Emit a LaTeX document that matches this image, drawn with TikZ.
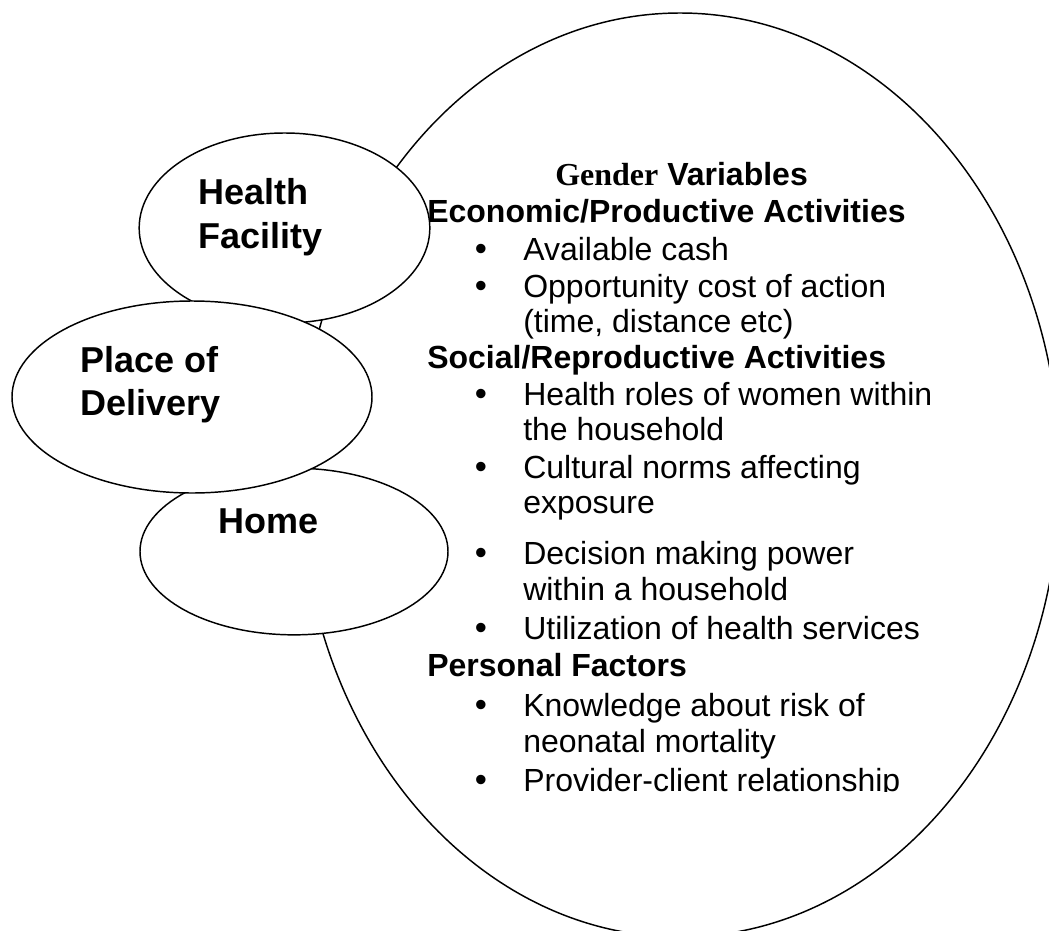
\documentclass[tikz,border=0pt]{standalone}
\usepackage{fontspec}
\setmainfont{Liberation Sans}
\newfontfamily\gserif{Liberation Serif}
\usetikzlibrary{shapes.geometric}
\begin{document}
\begin{tikzpicture}[x=0.75pt,y=-0.75pt,
  oval/.style={ellipse, draw, line width=1.1pt, fill=white, inner sep=0pt},
  lbl/.style={anchor=base west, inner sep=0pt, font=\bfseries\fontsize{27}{31}\selectfont},
  body/.style={anchor=base west, inner sep=0pt, font=\fontsize{24}{27.6}\selectfont},
  head/.style={anchor=base west, inner sep=0pt, font=\bfseries\fontsize{24}{27.6}\selectfont},
  bul/.style={anchor=base, inner sep=0pt, font=\fontsize{26}{27.6}\selectfont}]
\useasboundingbox (0,0) rectangle (1049,931);
\clip (0,0) rectangle (1049,931);
% ellipses
\node[oval, minimum width=570pt, minimum height=693pt] (big) at (680,475) {};
\node[oval, minimum width=231pt, minimum height=125pt] (home) at (294,551.5) {};
\node[oval, minimum width=218pt, minimum height=142.5pt] (hf) at (284.5,228) {};
\node[oval, minimum width=270pt, minimum height=144pt] (pod) at (192,397) {};
% ellipse labels
\node[lbl] (hf1) at (198,204) {Health};
\node[lbl] (hf2) at (198,248) {Facility};
\node[lbl] (pd1) at (80,372) {Place of};
\node[lbl] (pd2) at (80,415) {Delivery};
\node[lbl] (hm) at (218,533) {Home};
% text inside the big ellipse
\begin{scope}
\clip (380,100) rectangle (1000,791);
\node[head] (gv) at (555,185) {{\gserif Gender} Variables};
\node[head] (h1) at (427,222) {Economic/Productive Activities};
\node[bul] (b1) at (481,260) {•};
\node[body] (l1) at (523,260) {Available cash};
\node[bul] (b2) at (481,297) {•};
\node[body] (l2) at (523,297) {Opportunity cost of action};
\node[body] (l3) at (523,332) {(time, distance etc)};
\node[head] (h2) at (427,368) {Social/Reproductive Activities};
\node[bul] (b3) at (481,405) {•};
\node[body] (l4) at (523,405) {Health roles of women within};
\node[body] (l5) at (523,440) {the household};
\node[bul] (b4) at (481,478) {•};
\node[body] (l6) at (523,478) {Cultural norms affecting};
\node[body] (l7) at (523,513) {exposure};
\node[bul] (b5) at (481,564) {•};
\node[body] (l8) at (523,564) {Decision making power};
\node[body] (l9) at (523,600) {within a household};
\node[bul] (b6) at (481,639) {•};
\node[body] (l10) at (523,639) {Utilization of health services};
\node[head] (h3) at (427,676) {Personal Factors};
\node[bul] (b7) at (481,716) {•};
\node[body] (l11) at (523,716) {Knowledge about risk of};
\node[body] (l12) at (523,752) {neonatal mortality};
\node[bul] (b8) at (481,791) {•};
\node[body] (l13) at (523,791) {Provider-client relationship};
\end{scope}
\end{tikzpicture}
\end{document}
